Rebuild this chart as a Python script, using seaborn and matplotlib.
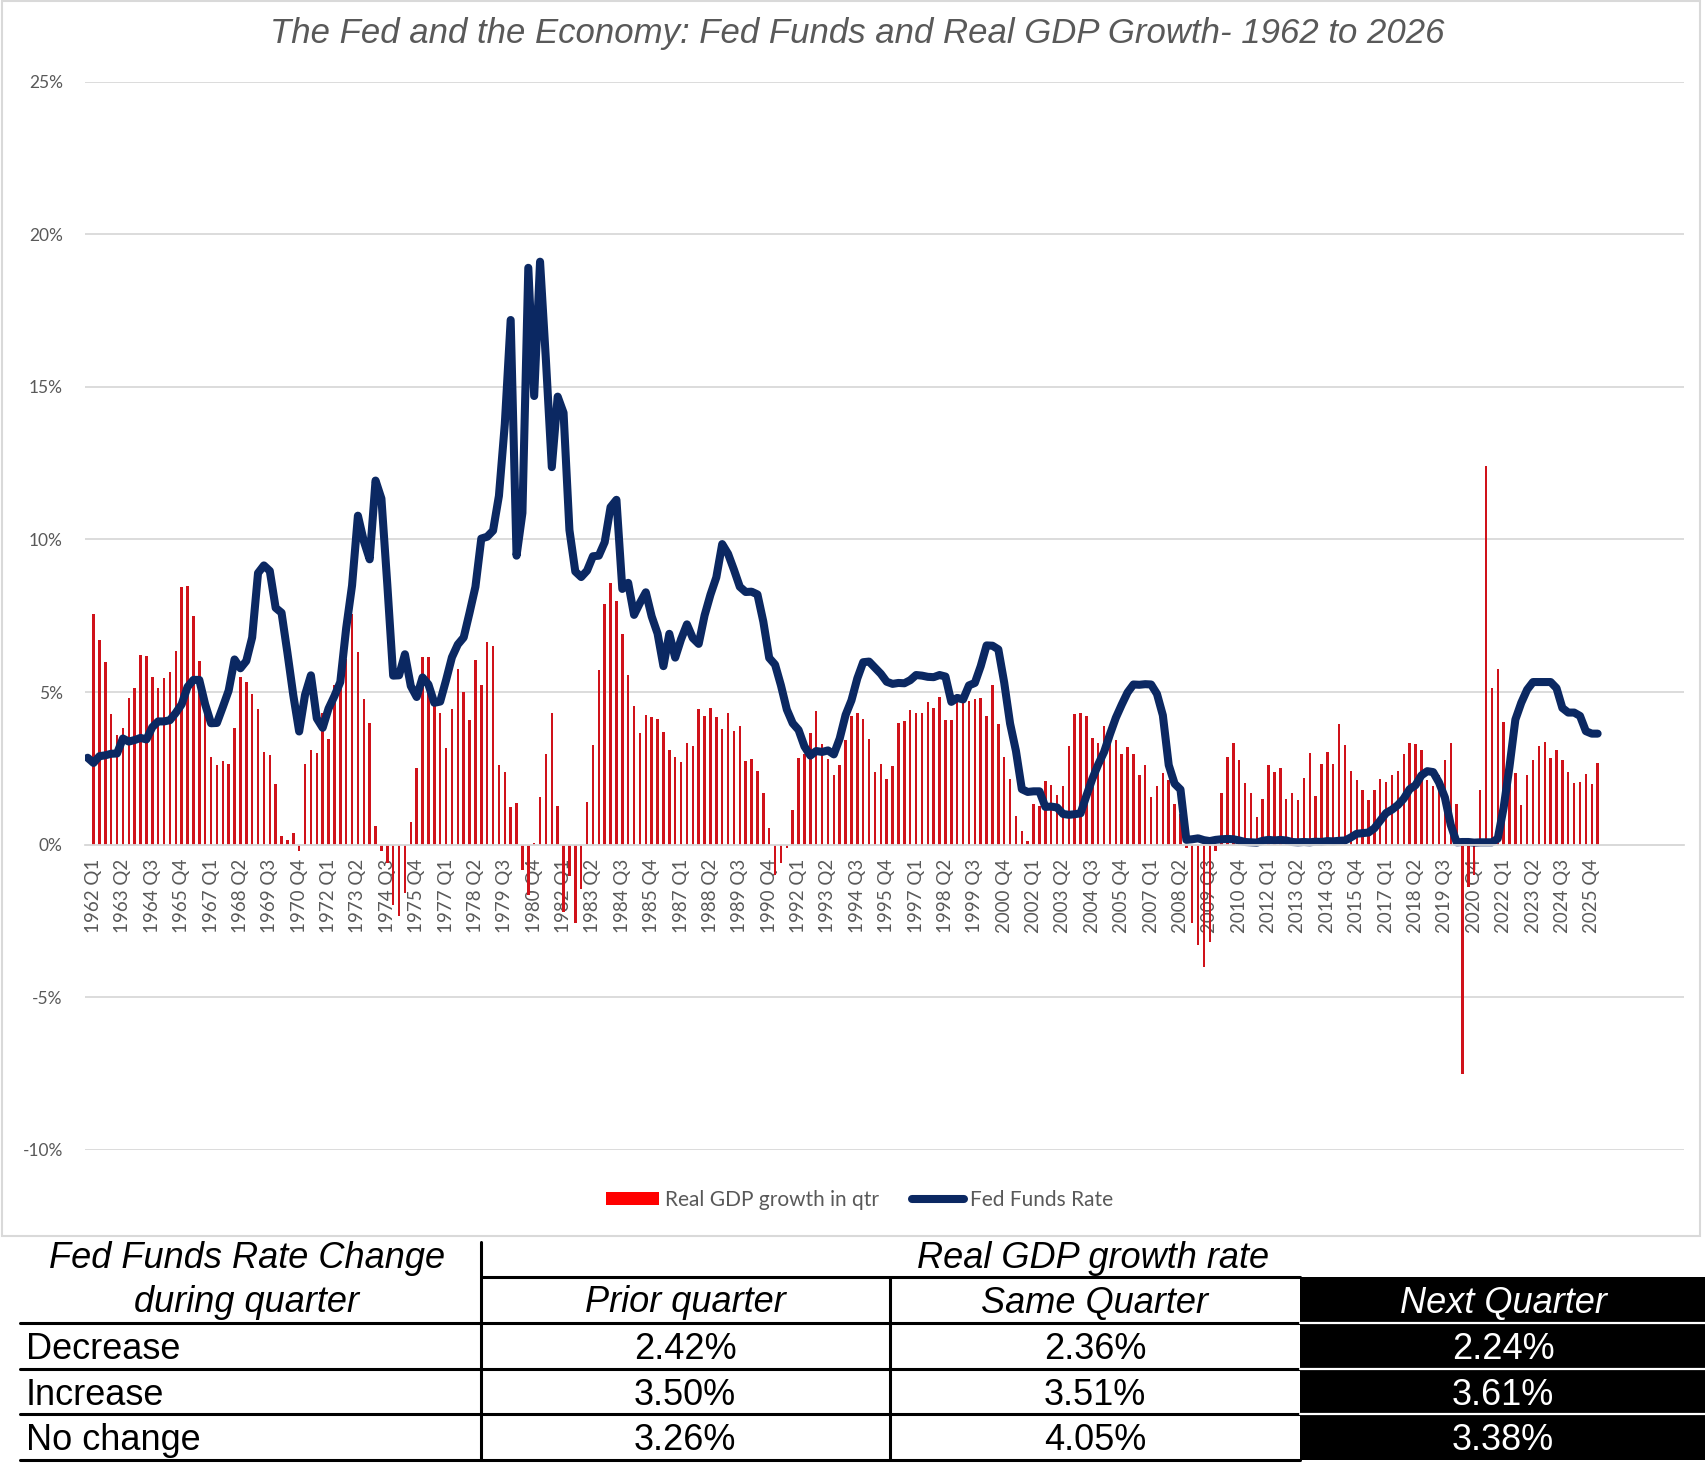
import numpy as np
import matplotlib
matplotlib.use("Agg")
import matplotlib.pyplot as plt
import seaborn as sns
from matplotlib.lines import Line2D
from matplotlib.patches import Patch, Rectangle

# ------------------------------------------------------------
# data
# ------------------------------------------------------------
# real GDP growth vs. same quarter a year earlier, 1962 Q1 .. 2026 Q1 (%)
gdp_growth = [
    # 1962 - 1971
    7.57, 6.72, 5.99, 4.29, 3.59, 3.82, 4.80, 5.13, 6.22, 6.18,
    5.50, 5.13, 5.47, 5.66, 6.35, 8.45, 8.48, 7.50, 6.02, 4.33,
    2.89, 2.60, 2.73, 2.63, 3.82, 5.50, 5.33, 4.95, 4.44, 3.03,
    2.93, 2.00, 0.30, 0.14, 0.39, -0.19, 2.66, 3.09, 2.99, 4.31,
    # 1972 - 1981
    3.45, 5.23, 5.40, 6.10, 7.57, 6.30, 4.77, 4.00, 0.60, -0.22,
    -0.60, -1.97, -2.34, -1.59, 0.75, 2.53, 6.15, 6.15, 4.60, 4.31,
    3.18, 4.44, 5.76, 5.02, 4.09, 6.05, 5.23, 6.64, 6.51, 2.62,
    2.37, 1.25, 1.38, -0.82, -1.64, 0.05, 1.58, 2.96, 4.31, 1.28,
    # 1982 - 1991
    -2.19, -1.02, -2.58, -1.46, 1.41, 3.26, 5.72, 7.89, 8.59, 7.99,
    6.90, 5.56, 4.54, 3.66, 4.24, 4.18, 4.11, 3.68, 3.09, 2.89,
    2.70, 3.32, 3.22, 4.44, 4.22, 4.47, 4.18, 3.78, 4.31, 3.72,
    3.88, 2.73, 2.80, 2.40, 1.71, 0.56, -0.99, -0.60, -0.10, 1.15,
    # 1992 - 2001
    2.83, 2.96, 3.65, 4.38, 3.29, 2.80, 2.27, 2.60, 3.42, 4.21,
    4.31, 4.11, 3.45, 2.37, 2.66, 2.17, 2.57, 3.98, 4.05, 4.41,
    4.31, 4.31, 4.67, 4.47, 4.84, 4.08, 4.08, 4.70, 4.66, 4.70,
    4.77, 4.80, 4.21, 5.23, 3.95, 2.89, 2.17, 0.95, 0.46, 0.13,
    # 2002 - 2011
    1.32, 1.28, 2.10, 1.97, 1.64, 1.94, 3.22, 4.28, 4.31, 4.21,
    3.49, 3.32, 3.88, 3.50, 3.42, 2.96, 3.19, 2.96, 2.30, 2.60,
    1.55, 1.91, 2.34, 2.11, 1.35, 1.00, -0.10, -2.58, -3.29, -4.02,
    -3.18, -0.20, 1.71, 2.89, 3.32, 2.76, 2.01, 1.71, 0.92, 1.51,
    # 2012 - 2021
    2.60, 2.37, 2.53, 1.51, 1.68, 1.48, 2.20, 2.99, 1.61, 2.66,
    3.03, 2.66, 3.95, 3.26, 2.43, 2.11, 1.78, 1.45, 1.78, 2.17,
    2.07, 2.30, 2.40, 2.96, 3.32, 3.29, 3.09, 2.11, 1.91, 2.30,
    2.76, 3.32, 1.32, -7.50, -1.40, -1.00, 1.79, 12.40, 5.14, 5.77,
    # 2022 - 2026 Q1
    4.01, 2.10, 2.35, 1.30, 2.28, 2.77, 3.23, 3.37, 2.84, 3.10,
    2.77, 2.38, 2.02, 2.05, 2.31, 1.98, 2.68,
]

# fed funds rate at end of quarter, 1962 Q1 .. 2026 Q2 (%)
# (the chart draws each value one quarter to the left of its GDP bar)
fed_funds = [
    2.85, 2.68, 2.90, 2.93, 2.98, 2.99, 3.48, 3.38, 3.43, 3.50,
    3.45, 3.85, 4.04, 4.04, 4.08, 4.32, 4.60, 5.17, 5.40, 5.40,
    4.60, 3.98, 3.99, 4.51, 5.05, 6.07, 5.78, 6.02, 6.79, 8.90,
    9.15, 8.97, 7.76, 7.60, 6.29, 4.90, 3.71, 4.91, 5.55, 4.14,
    3.83, 4.46, 4.87, 5.33, 7.09, 8.49, 10.78, 9.95, 9.35, 11.93,
    11.34, 8.53, 5.54, 5.55, 6.24, 5.20, 4.84, 5.48, 5.25, 4.65,
    4.69, 5.39, 6.14, 6.56, 6.79, 7.60, 8.45, 10.03, 10.09, 10.29,
    11.43, 13.78, 17.19, 9.47, 10.87, 18.90, 14.70, 19.10, 15.87, 12.37,
    14.68, 14.15, 10.31, 8.95, 8.77, 8.98, 9.45, 9.47, 9.91, 11.06,
    11.30, 8.38, 8.58, 7.53, 7.92, 8.27, 7.48, 6.92, 5.85, 6.91,
    6.13, 6.73, 7.22, 6.77, 6.58, 7.51, 8.19, 8.76, 9.85, 9.53,
    9.01, 8.45, 8.28, 8.29, 8.20, 7.31, 6.12, 5.90, 5.22, 4.43,
    3.98, 3.76, 3.22, 2.92, 3.07, 3.04, 3.09, 2.96, 3.48, 4.25,
    4.73, 5.45, 5.98, 6.00, 5.80, 5.60, 5.34, 5.27, 5.30, 5.29,
    5.39, 5.56, 5.54, 5.50, 5.49, 5.56, 5.51, 4.68, 4.81, 4.76,
    5.22, 5.30, 5.85, 6.53, 6.52, 6.40, 5.31, 3.97, 3.07, 1.82,
    1.73, 1.75, 1.75, 1.24, 1.25, 1.22, 1.01, 0.98, 1.00, 1.03,
    1.61, 2.16, 2.63, 3.04, 3.62, 4.16, 4.59, 4.99, 5.25, 5.24,
    5.26, 5.25, 4.94, 4.24, 2.61, 2.00, 1.81, 0.16, 0.18, 0.21,
    0.15, 0.12, 0.16, 0.18, 0.19, 0.18, 0.14, 0.09, 0.08, 0.07,
    0.13, 0.16, 0.14, 0.16, 0.14, 0.09, 0.08, 0.09, 0.08, 0.10,
    0.09, 0.12, 0.11, 0.13, 0.14, 0.24, 0.36, 0.38, 0.40, 0.54,
    0.79, 1.04, 1.15, 1.30, 1.51, 1.82, 1.95, 2.27, 2.41, 2.38,
    2.04, 1.55, 0.65, 0.08, 0.09, 0.09, 0.07, 0.08, 0.08, 0.08,
    0.20, 1.21, 2.56, 4.10, 4.65, 5.08, 5.33, 5.33, 5.33, 5.33,
    5.13, 4.48, 4.33, 4.33, 4.22, 3.72, 3.64, 3.64,
]

quarters = [f"{1962 + i // 4} Q{i % 4 + 1}" for i in range(len(gdp_growth))]

title = "The Fed and the Economy: Fed Funds and Real GDP Growth- 1962 to 2026"

# summary table under the chart
rate_change = ["Decrease", "Increase", "No change"]
prior_quarter = ["2.42%", "3.50%", "3.26%"]
same_quarter = ["2.36%", "3.51%", "4.05%"]
next_quarter = ["2.24%", "3.61%", "3.38%"]

# ------------------------------------------------------------
# style
# ------------------------------------------------------------
sns.set_style("white")
plt.rcParams["font.family"] = ["Lato", "DejaVu Sans"]

W, H = 1706, 1470
BAR_RED = "#d0121a"
NAVY = "#0b2862"
GRID = "#d9d9d9"
GREY_TXT = "#595959"
TABLE_FONT = ["Liberation Sans", "DejaVu Sans"]


def fx(x):
    return x / W


def fy(y):
    return 1 - y / H


fig = plt.figure(figsize=(W / 100, H / 100), dpi=100)
ax = fig.add_axes([fx(85), fy(1150), (1684 - 85) / W, (1150 - 81.6) / H])

gdp_pos = np.arange(len(gdp_growth))
ffr_pos = np.arange(len(fed_funds)) - 1

sns.barplot(x=gdp_pos, y=gdp_growth, native_scale=True, width=0.42,
            color=BAR_RED, saturation=1, errorbar=None, linewidth=0, ax=ax)
sns.lineplot(x=ffr_pos, y=fed_funds, color=NAVY, linewidth=5.8,
             sort=False, errorbar=None, ax=ax)
for ln in ax.lines:
    ln.set_solid_capstyle("round")
    ln.set_solid_joinstyle("round")

ax.set_xlim(-1.45, 270.7)
ax.set_ylim(-10, 25)
ax.set_yticks(np.arange(-10, 26, 5))
ax.set_yticklabels([f"{v}%" for v in range(-10, 26, 5)])
ax.set_xticks(gdp_pos[::5])
ax.set_xticklabels(quarters[::5])
ax.set_xlabel("")
ax.set_ylabel("")

ax.yaxis.grid(True, color=GRID, linewidth=1.3)
ax.set_axisbelow(True)
for s in ["top", "right", "left"]:
    ax.spines[s].set_visible(False)
ax.spines["bottom"].set_position(("data", 0))
ax.spines["bottom"].set_color(GRID)
ax.spines["bottom"].set_linewidth(1.3)

ax.tick_params(axis="y", length=0, pad=16, labelsize=12.5, labelcolor=GREY_TXT)
ax.tick_params(axis="x", length=0, pad=10, labelsize=13.5, labelcolor=GREY_TXT,
               rotation=90)

# legend
handles = [
    Patch(facecolor="#ff0000", edgecolor="none", label="Real GDP growth in qtr"),
    Line2D([0], [0], color=NAVY, lw=5.8, solid_capstyle="round", label="Fed Funds Rate"),
]
fig.legend(handles=handles, loc="center", bbox_to_anchor=(fx(860), fy(1200)),
           ncol=2, frameon=False, fontsize=15, handlelength=2.5, handleheight=0.55,
           handletextpad=0.3, columnspacing=1.6, labelcolor=GREY_TXT)

# title
fig.text(fx(857), fy(34), title, ha="center", va="center", fontsize=25,
         style="italic", color=GREY_TXT, family=TABLE_FONT)

# chart frame
fig.add_artist(Rectangle((fx(2), fy(1236)), (1700 - 2) / W, (1236 - 1) / H,
                         transform=fig.transFigure, fill=False,
                         edgecolor=GRID, linewidth=1.5))

# ------------------------------------------------------------
# table
# ------------------------------------------------------------
def hline(y, x0, x1, color="black", lw=2.2):
    fig.add_artist(Line2D([fx(x0), fx(x1)], [fy(y), fy(y)],
                          transform=fig.transFigure, color=color, lw=lw))


def vline(x, y0, y1, color="black", lw=2.2):
    fig.add_artist(Line2D([fx(x), fx(x)], [fy(y0), fy(y1)],
                          transform=fig.transFigure, color=color, lw=lw))


def cell(x, y, s, ha="center", color="black", italic=False):
    fig.text(fx(x), fy(y), s, ha=ha, va="baseline", fontsize=26, color=color,
             style="italic" if italic else "normal", family=TABLE_FONT)


row_y = [1323, 1369, 1414, 1460]

fig.add_artist(Rectangle((fx(1300), fy(1460)), (1706 - 1300) / W, (1460 - 1277) / H,
                         transform=fig.transFigure, facecolor="black",
                         edgecolor="none"))
hline(1277, 481, 1300)
for y in row_y:
    hline(y, 20, 1300)
for y in row_y[:-1]:
    hline(y, 1300, 1706, color="white", lw=1.6)
vline(481, 1242, 1460)
vline(890, 1277, 1460)

cell(247, 1268, "Fed Funds Rate Change", italic=True)
cell(247, 1312.5, "during quarter", italic=True)
cell(1093, 1268, "Real GDP growth rate", italic=True)
cell(685, 1312.5, "Prior quarter", italic=True)
cell(1095, 1312.5, "Same Quarter", italic=True)
cell(1503, 1312.5, "Next Quarter", italic=True, color="white")

baselines = [1359, 1405, 1450.5]
for i, base in enumerate(baselines):
    cell(26, base, rate_change[i], ha="left")
    cell(685, base, prior_quarter[i])
    cell(1095, base, same_quarter[i])
    cell(1503, base, next_quarter[i], color="white")

fig.savefig("out.png", dpi=100)
